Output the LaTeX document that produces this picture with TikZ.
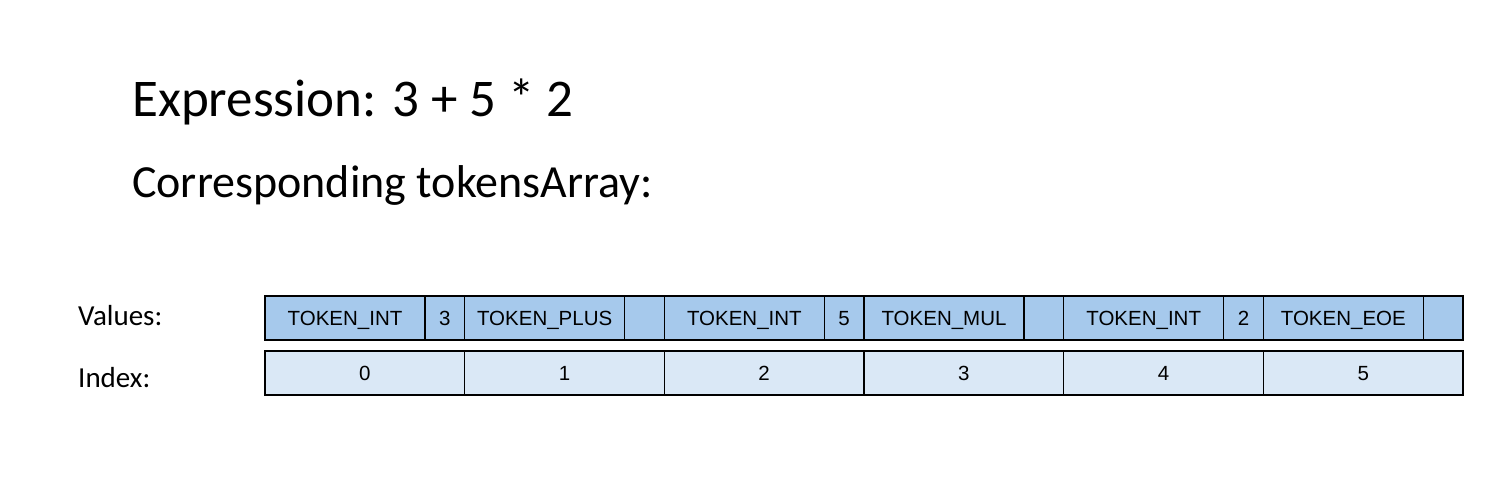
\documentclass[tikz,border=0pt]{standalone}
\usepackage{fontspec}
\setmainfont{Carlito}
\newfontfamily\cellfont{Liberation Sans}
\usetikzlibrary{positioning}
\definecolor{valblue}{HTML}{A6C9EC}
\definecolor{idxblue}{HTML}{DAE8F6}

\begin{document}
\begin{tikzpicture}[x=1pt, y=-1pt,
	valcell/.style={draw, fill=valblue, line width=1.5pt, minimum height=44pt, inner sep=0pt, outer sep=0pt, text height=14.7pt, text depth=0pt, font=\cellfont\fontsize{20.5}{24}\selectfont},
	typecell/.style={valcell, minimum width=160pt},
	datacell/.style={valcell, minimum width=39.67pt},
	idxcell/.style={valcell, fill=idxblue, minimum width=199.67pt}]
			\useasboundingbox (0,0) rectangle (1502,492);
			
			\node[anchor=base west, inner sep=0pt, font=\fontsize{53}{60}\selectfont] (expr) at (132,117) {Expression: 3 + 5 * 2};
			\node[anchor=base west, inner sep=0pt, font=\fontsize{46}{52}\selectfont] (arr) at (132,197) {Corresponding tokensArray:};
			\node[anchor=base west, inner sep=0pt, font=\fontsize{29}{34}\selectfont] (vlabel) at (78,325) {Values:};
			\node[anchor=base west, inner sep=0pt, font=\fontsize{29}{34}\selectfont] (ilabel) at (78,387) {Index:};
			
			\node[typecell, anchor=north west] (t0) at (265,296) {TOKEN\_INT};
			\node[datacell, right=0pt of t0] (d0) {3};
			\node[typecell, right=0pt of d0] (t1) {TOKEN\_PLUS};
			\node[datacell, right=0pt of t1] (d1) {};
			\node[typecell, right=0pt of d1] (t2) {TOKEN\_INT};
			\node[datacell, right=0pt of t2] (d2) {5};
			\node[typecell, right=0pt of d2] (t3) {TOKEN\_MUL};
			\node[datacell, right=0pt of t3] (d3) {};
			\node[typecell, right=0pt of d3] (t4) {TOKEN\_INT};
			\node[datacell, right=0pt of t4] (d4) {2};
			\node[typecell, right=0pt of d4] (t5) {TOKEN\_EOE};
			\node[datacell, right=0pt of t5] (d5) {};
			
			\node[idxcell, anchor=north west] (i0) at (265,351) {0};
			\node[idxcell, right=0pt of i0] (i1) {1};
			\node[idxcell, right=0pt of i1] (i2) {2};
			\node[idxcell, right=0pt of i2] (i3) {3};
			\node[idxcell, right=0pt of i3] (i4) {4};
			\node[idxcell, right=0pt of i4] (i5) {5};
		\end{tikzpicture}
\end{document}
